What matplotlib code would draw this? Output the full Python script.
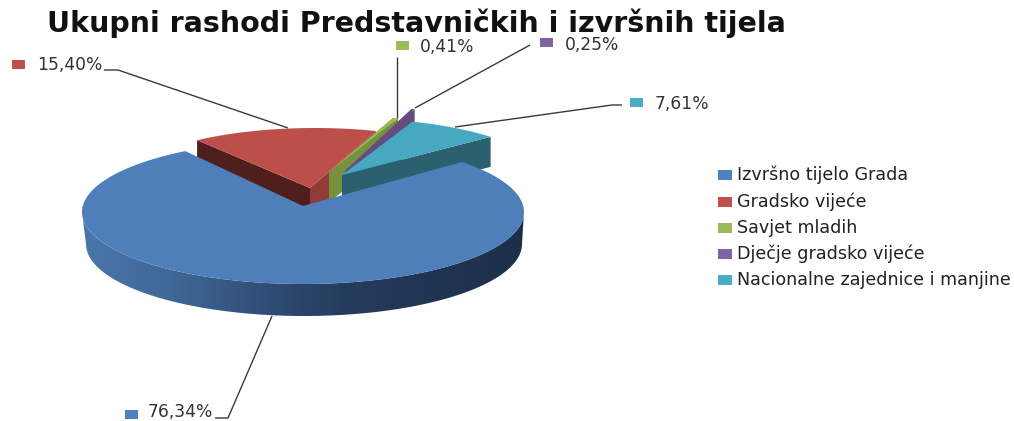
"""Exploded 3D style pie of expenditure shares."""
import matplotlib
matplotlib.use("Agg")
import matplotlib.pyplot as plt
import numpy as np
from matplotlib.colors import LinearSegmentedColormap
from matplotlib.patches import Polygon, Rectangle

TITLE = "Ukupni rashodi Predstavničkih i izvršnih tijela"
categories = ["Izvršno tijelo Grada", "Gradsko vijeće", "Savjet mladih",
              "Dječje gradsko vijeće", "Nacionalne zajednice i manjine"]
shares = [76.34, 15.40, 0.41, 0.25, 7.61]

top_colors = ["#4e7fba", "#bd4f4b", "#9bbb59", "#6a4c84", "#47a8c2"]
key_colors = ["#4f81bd", "#c0504d", "#9bbb59", "#8064a2", "#4bacc6"]
# colour of the cut face at the slice start / end
start_face = ["#3c608c", "#4e1f1c", "#76923c", "#664a80", "#2a6070"]
end_face = ["#3c608c", "#8f3b38", "#76923c", "#664a80", "#2a6070"]

# pixel layout: apex x, apex y, arc centre x, arc centre y, rx, ry
geom = [(303, 206, 303, 212, 221, 72),
        (310, 188, 315, 188, 195, 60),
        (329, 172, 329, 172, 205, 57),
        (345, 171, 345, 171, 198, 66),
        (342, 175, 342, 175, 200, 57)]
# perspective squeezes the far side of the ellipse a little
angle_nudge = [(-5.0, 2.0), (0, 0), (0, 0), (0, 0), (0, 0)]
DEPTH = 30
START_ANGLE = 42.0
TEXT_FONT = ["DejaVu Sans"]

# label box x, box y, text x, text y, leader points
label_pos = [(125, 410, 148, 412, [(272, 316), (228, 418), (215, 418)]),
             (12, 60, 37, 65, [(288, 128), (118, 70), (104, 70)]),
             (396, 41, 420, 47, [(397, 118), (397, 57)]),
             (540, 38, 565, 45, [(415, 108), (530, 45)]),
             (630, 98, 655, 104, [(455, 127), (612, 105), (622, 105)])]
legend_y = [175, 202, 228, 254, 280]


def arc(cx, cy, rx, ry, a0, a1, n=120):
    t = np.radians(np.linspace(a0, a1, n))
    return np.column_stack([cx + rx * np.cos(t), cy - ry * np.sin(t)])


def cut_face(ax, apex, rim, color, z):
    pts = [apex, rim, (rim[0], rim[1] + DEPTH), (apex[0], apex[1] + DEPTH)]
    ax.add_patch(Polygon(pts, closed=True, fc=color, ec="none", zorder=z))


def blue_side(ax, g, z):
    # gradient rim, only the front half of the ellipse shows
    x0, y0, cx, cy, rx, ry = g
    up = arc(cx, cy, rx, ry, 180, 360, 200)
    low = arc(cx + 1, cy + DEPTH + 2, rx - 3, ry, 180, 360, 200)
    clip = Polygon(np.vstack([up, low[::-1]]), closed=True, transform=ax.transData)
    cmap = LinearSegmentedColormap.from_list(
        "rim", [(0.0, "#4a76a9"), (0.2, "#3f6897"), (0.42, "#2f4d75"),
                (0.6, "#253b5c"), (1.0, "#1c2f4a")])
    grad = np.linspace(0, 1, 256)[None, :]
    im = ax.imshow(grad, extent=(cx - rx, cx + rx, cy + DEPTH + ry + 4, cy - 2),
                   cmap=cmap, aspect="auto", zorder=z)
    im.set_clip_path(clip)


def main():
    fig = plt.figure(figsize=(10.14, 4.21), dpi=100)
    ax = fig.add_axes([0, 0, 1, 1])

    # slices go clockwise from START_ANGLE
    sweep = np.array(shares) / sum(shares) * 360.0
    ends = START_ANGLE - np.cumsum(sweep)
    starts = ends + sweep

    # painter order: back slices first, the big one last
    for z, i in enumerate([1, 2, 3, 4, 0]):
        g = geom[i]
        x0, y0, cx, cy, rx, ry = g
        a0 = ends[i] + angle_nudge[i][0]
        a1 = starts[i] + angle_nudge[i][1]
        rim = arc(cx, cy, rx, ry, a0, a1)
        zz = 2 + z * 3
        if i == 0:
            blue_side(ax, g, zz)
        else:
            cut_face(ax, (x0, y0), rim[-1], start_face[i], zz)
            cut_face(ax, (x0, y0), rim[0], end_face[i], zz + 1)
        ax.add_patch(Polygon(np.vstack([[(x0, y0)], rim]), closed=True,
                             fc=top_colors[i], ec="none", zorder=zz + 2))

    for i, (bx, by, tx, ty, leader) in enumerate(label_pos):
        ax.add_patch(Rectangle((bx, by), 13, 9, fc=key_colors[i], ec="none", zorder=30))
        ax.text(tx, ty, f"{shares[i]:.2f}%".replace(".", ","), fontsize=12.3,
                family=TEXT_FONT, color="#333333", va="center", ha="left", zorder=30)
        lx, ly = zip(*leader)
        ax.plot(lx, ly, color="#3a3a3a", lw=1.0, zorder=29, solid_capstyle="butt")

    for i, name in enumerate(categories):
        ax.add_patch(Rectangle((718, legend_y[i] - 5), 14, 10, fc=key_colors[i], ec="none"))
        ax.text(737, legend_y[i], name, fontsize=12.6, family=TEXT_FONT,
                color="#222222", va="center", ha="left")

    ax.text(47, 23, TITLE, fontsize=20.5, fontweight="bold", family=TEXT_FONT,
            color="#111111", va="center", ha="left")

    ax.set_xlim(0, 1014)
    ax.set_ylim(421, 0)
    ax.axis("off")
    fig.savefig("out.png", dpi=100)


if __name__ == "__main__":
    main()
